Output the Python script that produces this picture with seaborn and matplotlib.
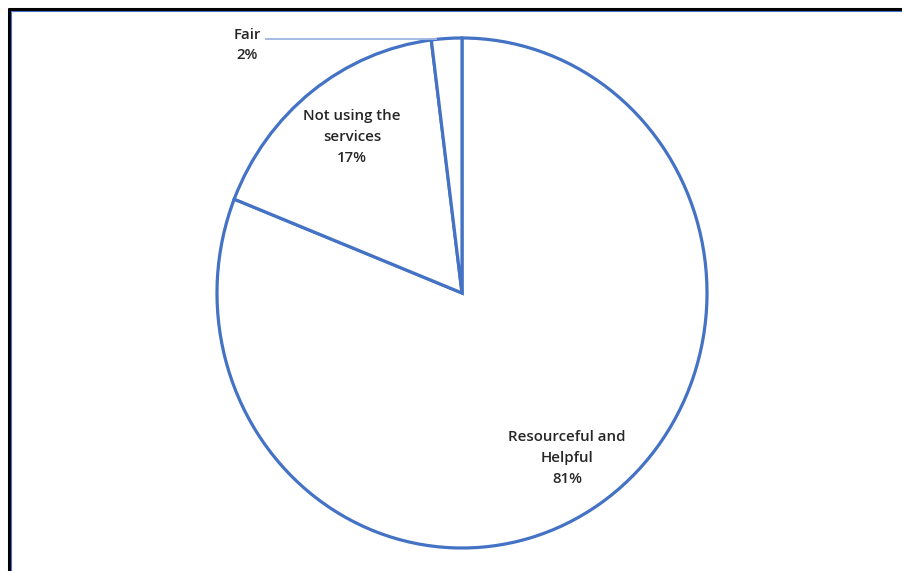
import matplotlib
matplotlib.use("Agg")
import matplotlib.pyplot as plt
from matplotlib.lines import Line2D
import seaborn as sns

categories = ["Resourceful and\nHelpful", "Not using the\nservices", "Fair"]
values = [81, 17, 2]
pct_labels = ["81%", "17%", "2%"]

sns.set_theme(style="white")
plt.rcParams['font.family'] = ['Open Sans', 'DejaVu Sans']

W, H = 902, 571
fig = plt.figure(figsize=(W / 100, H / 100), dpi=100)
ax = fig.add_axes([0, 0, 1, 1])

edge = "#4472C4"
wedges, _ = ax.pie(values, startangle=90, counterclock=False,
                   colors=["white"] * len(values),
                   wedgeprops=dict(edgecolor=edge, linewidth=2.3))

# slightly elliptical pie as in the reference
cx, cy = 462, H - 293
rx, ry = 245, 255
ax.set_aspect('auto')
ax.set_xlim(-cx / rx, (W - cx) / rx)
ax.set_ylim(-cy / ry, (H - cy) / ry)
ax.axis('off')

def px(x, y):
    return ((x - cx) / rx, ((H - y) - cy) / ry)

label_pos = [px(567, 458), px(352, 137), px(247, 45)]
for cat, pct, pos in zip(categories, pct_labels, label_pos):
    ax.text(pos[0], pos[1], f"{cat}\n{pct}", ha="center", va="center",
            fontsize=10.8, fontweight="semibold", color="#262626",
            linespacing=1.6)

# leader line for "Fair"
x0, y0 = px(265, 39)
x1, y1 = px(437, 39)
ax.plot([x0, x1], [y0, y1], color="#9DB5E0", linewidth=1.3,
        solid_capstyle="butt")

# partial frame (top and left edges)
fig.add_artist(Line2D([9 / W, 1.0], [1 - 9 / H, 1 - 9 / H],
                      transform=fig.transFigure, color="black", linewidth=2.2))
fig.add_artist(Line2D([9 / W, 9 / W], [0, 1 - 9 / H],
                      transform=fig.transFigure, color="black", linewidth=2.2))
fig.add_artist(Line2D([11 / W, 1.0], [1 - 11 / H, 1 - 11 / H],
                      transform=fig.transFigure, color=edge, linewidth=0.8))
fig.add_artist(Line2D([11 / W, 11 / W], [0, 1 - 11 / H],
                      transform=fig.transFigure, color=edge, linewidth=0.8))

fig.savefig("out.png", dpi=100, facecolor="white")
